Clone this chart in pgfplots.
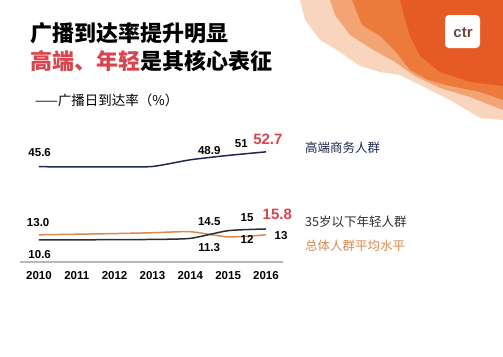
\documentclass[border=0pt]{standalone}
\usepackage{fontspec}
\setmainfont{Liberation Sans}
\newfontfamily\cjk{Noto Sans CJK SC}
\usepackage{pgfplots}
\pgfplotsset{compat=1.18}
\definecolor{navy}{HTML}{1E2850}
\definecolor{young}{HTML}{2E2E2E}
\definecolor{avg}{HTML}{D88A50}
\definecolor{hl}{HTML}{D9454F}
\definecolor{axgray}{HTML}{B8B8B8}
\definecolor{or1}{HTML}{E65A25}
\definecolor{or2}{HTML}{EC7A3A}
\definecolor{or3}{HTML}{F2A474}
\definecolor{or4}{HTML}{F9D5BE}
\definecolor{logotxt}{HTML}{6A4A40}
\begin{document}
\begin{tikzpicture}
\useasboundingbox (0pt,0pt) rectangle (503pt,-356pt);
\fill[white] (0pt,0pt) rectangle (503pt,-356pt);
% decorative corner
\begin{scope}[x=1pt,y=-1pt]
\fill[or4] (300,0) -- (503,0) -- (503,120) -- (480,118) -- (450,100) -- (430,90) -- (400,75) -- (380,72) -- (360,66) -- (340,52) -- (320,40) -- (305,20) -- cycle;
\fill[or3] (330,0) -- (503,0) -- (503,110) -- (470,97) -- (440,88) -- (415,76) -- (395,62) -- (370,48) -- (350,35) -- (335,15) -- cycle;
\fill[or2] (352,0) -- (503,0) -- (503,100) -- (480,92) -- (450,86) -- (428,80) -- (410,70) -- (396,52) -- (380,36) -- (362,25) -- cycle;
\fill[or1] (400,0) -- (503,0) -- (503,86) -- (470,82) -- (440,72) -- (420,56) -- (410,36) -- (404,15) -- cycle;
\fill[white, rounded corners=4pt] (445,15) rectangle (480,48);
\node[font=\bfseries\fontsize{15}{15}\selectfont, text=logotxt] at (463,33) {ctr};
\end{scope}
% titles
\node[anchor=west, font=\cjk\bfseries\fontsize{22}{22}\selectfont, inner sep=0] at (30pt,-33pt) {广播到达率提升明显};
\node[anchor=west, font=\cjk\bfseries\fontsize{22}{22}\selectfont, inner sep=0] at (30pt,-61pt) {\textcolor{hl}{高端、年轻}是其核心表征};
\node[anchor=west, font=\cjk\fontsize{13.5}{13.5}\selectfont, inner sep=0] at (35pt,-100pt) {——广播日到达率（\%）};
% right labels
\node[anchor=west, font=\cjk\fontsize{12.5}{12.5}\selectfont, text=navy, inner sep=0] at (305pt,-148pt) {高端商务人群};
\node[anchor=west, font=\cjk\fontsize{12.5}{12.5}\selectfont, text=young, inner sep=0] at (305pt,-222pt) {35岁以下年轻人群};
\node[anchor=west, font=\cjk\fontsize{12.5}{12.5}\selectfont, text=avg, inner sep=0] at (305pt,-246pt) {总体人群平均水平};
\begin{axis}[
  at={(20pt,-262pt)}, anchor=south west,
  scale only axis, width=263pt, height=125.4pt,
  xmin=2009.5, xmax=2016.45, ymin=0, ymax=60,
  axis x line*=bottom, axis y line=none,
  x axis line style={axgray, line width=1.3pt, -},
  xtick={2010,2011,2012,2013,2014,2015,2016},
  xticklabels={2010,2011,2012,2013,2014,2015,2016},
  major tick length=0pt,
  xticklabel style={font=\bfseries\fontsize{11.5}{11.5}\selectfont, yshift=-6pt},
  clip=false,
]
\addplot[navy, line width=1.5pt, smooth, tension=0.35] coordinates {(2010,45.6) (2011,45.5) (2012,45.5) (2013,45.7) (2014,48.9) (2015,51) (2016,52.7)};
\addplot[avg, line width=1.5pt, smooth, tension=0.35] coordinates {(2010,13.0) (2011,13.3) (2012,13.6) (2013,14.0) (2014,14.5) (2015,12) (2016,13)};
\addplot[young, line width=1.5pt, smooth, tension=0.35] coordinates {(2010,10.6) (2011,10.6) (2012,10.7) (2013,10.8) (2014,11.3) (2015,15) (2016,15.8)};
\tikzset{dl/.style={font=\bfseries\fontsize{11.5}{11.5}\selectfont, inner sep=0}}
\node[dl] at (axis cs:2010.02,52.5) {45.6};
\node[dl] at (axis cs:2014.5,53.5) {48.9};
\node[dl] at (axis cs:2015.35,56.5) {51};
\node[dl, text=hl, font=\bfseries\fontsize{15}{15}\selectfont] at (axis cs:2016.05,58.5) {52.7};
\node[dl] at (axis cs:2009.98,18.8) {13.0};
\node[dl] at (axis cs:2010.02,3.5) {10.6};
\node[dl] at (axis cs:2014.5,19.3) {14.5};
\node[dl] at (axis cs:2014.5,6.8) {11.3};
\node[dl] at (axis cs:2015.5,21.2) {15};
\node[dl, text=hl, font=\bfseries\fontsize{15}{15}\selectfont] at (axis cs:2016.3,23) {15.8};
\node[dl] at (axis cs:2015.5,11) {12};
\node[dl] at (axis cs:2016.4,12.5) {13};
\end{axis}
\end{tikzpicture}
\end{document}
